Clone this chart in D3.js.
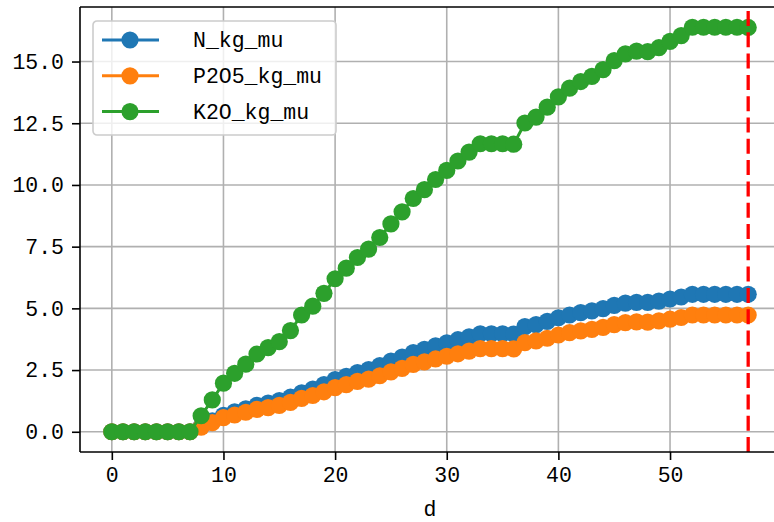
<!DOCTYPE html>
<html>
<head>
<meta charset="utf-8">
<script src="https://cdn.jsdelivr.net/npm/d3@7"></script>
<style>
  body { margin: 0; background: #fff; }
  svg { display: block; }
  text { font-family: "Liberation Mono", "DejaVu Sans Mono", monospace; }
</style>
</head>
<body>
<div id="chart"></div>
<script>
// days 0..57
const days = d3.range(0, 58);

const nKgMu = [0, 0, 0, 0, 0, 0, 0, 0,
  0.22, 0.44, 0.67, 0.81, 0.93, 1.07, 1.16, 1.26, 1.40, 1.58, 1.73, 1.91,
  2.11, 2.25, 2.40, 2.52, 2.68, 2.86, 3.03, 3.21, 3.34, 3.48,
  3.60, 3.73, 3.85, 3.97, 3.97, 3.97, 3.96, 4.26, 4.34, 4.47,
  4.62, 4.73, 4.83, 4.90, 4.99, 5.12, 5.21, 5.24, 5.24, 5.29,
  5.38, 5.46, 5.57, 5.57, 5.57, 5.57, 5.57, 5.57];

const p2o5KgMu = [0, 0, 0, 0, 0, 0, 0, 0,
  0.19, 0.37, 0.57, 0.68, 0.79, 0.91, 0.98, 1.07, 1.19, 1.35, 1.47, 1.62,
  1.79, 1.91, 2.04, 2.13, 2.27, 2.43, 2.57, 2.73, 2.83, 2.95,
  3.06, 3.16, 3.27, 3.37, 3.37, 3.37, 3.36, 3.61, 3.68, 3.79,
  3.92, 4.02, 4.09, 4.15, 4.23, 4.34, 4.42, 4.45, 4.44, 4.49,
  4.56, 4.63, 4.73, 4.73, 4.73, 4.73, 4.73, 4.73];

const k2oKgMu = [0, 0, 0, 0, 0, 0, 0, 0,
  0.65, 1.29, 1.97, 2.37, 2.74, 3.15, 3.41, 3.65, 4.10, 4.73, 5.09, 5.61,
  6.20, 6.63, 7.06, 7.40, 7.87, 8.42, 8.91, 9.45, 9.81, 10.22,
  10.59, 10.97, 11.33, 11.67, 11.67, 11.67, 11.65, 12.51, 12.75, 13.15,
  13.57, 13.92, 14.19, 14.40, 14.67, 15.04, 15.31, 15.42, 15.40, 15.56,
  15.82, 16.05, 16.39, 16.39, 16.39, 16.39, 16.39, 16.38];

const seriesNames = ["N_kg_mu", "P2O5_kg_mu", "K2O_kg_mu"];
const seriesColors = ["#1f77b4", "#ff7f0e", "#2ca02c"];
const xTicks = [0, 10, 20, 30, 40, 50];
const yTicks = [0, 2.5, 5, 7.5, 10, 12.5, 15];
const markerDay = 57;

(function() {
  const width = 774, height = 522;
  const plotLeft = 80, plotRight = 780, plotTop = 7, plotBottom = 452;

  const series = [nKgMu, p2o5KgMu, k2oKgMu].map((vals, i) => ({
    name: seriesNames[i],
    color: seriesColors[i],
    points: vals.map((v, j) => ({ d: days[j], v: v }))
  }));

  const xMax = d3.max(days), xMin = d3.min(days);
  const yMax = d3.max(series, s => d3.max(s.points, p => p.v));
  const xPad = (xMax - xMin) * 0.05, yPad = yMax * 0.05;

  const x = d3.scaleLinear().domain([xMin - xPad, xMax + xPad]).range([plotLeft, plotRight]);
  const y = d3.scaleLinear().domain([-yPad, yMax + yPad]).range([plotBottom, plotTop]);

  const svg = d3.select("#chart").append("svg")
    .attr("width", width)
    .attr("height", height);

  // grid
  const grid = svg.append("g");
  grid.selectAll("line.gx").data(xTicks).enter().append("line")
    .attr("x1", d => x(d)).attr("x2", d => x(d))
    .attr("y1", plotTop).attr("y2", plotBottom)
    .attr("stroke", "#b0b0b0").attr("stroke-width", 1.6);
  grid.selectAll("line.gy").data(yTicks).enter().append("line")
    .attr("x1", plotLeft).attr("x2", plotRight)
    .attr("y1", d => y(d)).attr("y2", d => y(d))
    .attr("stroke", "#b0b0b0").attr("stroke-width", 1.6);

  // series
  const line = d3.line().x(p => x(p.d)).y(p => y(p.v));
  series.forEach(s => {
    const g = svg.append("g");
    g.append("path")
      .attr("d", line(s.points))
      .attr("fill", "none")
      .attr("stroke", s.color)
      .attr("stroke-width", 3);
    g.selectAll("circle").data(s.points).enter().append("circle")
      .attr("cx", p => x(p.d))
      .attr("cy", p => y(p.v))
      .attr("r", 8.6)
      .attr("fill", s.color);
  });

  // red dashed marker line
  svg.append("line")
    .attr("x1", x(markerDay)).attr("x2", x(markerDay))
    .attr("y1", plotBottom).attr("y2", plotTop)
    .attr("stroke", "red")
    .attr("stroke-width", 3.3)
    .attr("stroke-dasharray", "15,6.3");

  // axes
  const xAxis = svg.append("g")
    .attr("transform", `translate(0,${plotBottom})`)
    .call(d3.axisBottom(x).tickValues(xTicks).tickSize(8).tickPadding(7).tickFormat(d3.format("d")));
  const yAxis = svg.append("g")
    .attr("transform", `translate(${plotLeft},0)`)
    .call(d3.axisLeft(y).tickValues(yTicks).tickSize(8).tickPadding(8).tickFormat(d3.format(".1f")));

  [xAxis, yAxis].forEach(a => {
    a.select(".domain").remove();
    a.selectAll(".tick line").attr("stroke", "#000").attr("stroke-width", 1.6);
    a.selectAll(".tick text")
      .attr("fill", "#000")
      .style("font-size", "21.5px");
  });

  // spines
  svg.append("line").attr("x1", plotLeft).attr("x2", plotLeft).attr("y1", plotTop).attr("y2", plotBottom)
    .attr("stroke", "#000").attr("stroke-width", 1.6);
  svg.append("line").attr("x1", plotLeft).attr("x2", plotRight).attr("y1", plotBottom).attr("y2", plotBottom)
    .attr("stroke", "#000").attr("stroke-width", 1.6);
  svg.append("line").attr("x1", plotLeft).attr("x2", plotRight).attr("y1", plotTop).attr("y2", plotTop)
    .attr("stroke", "#000").attr("stroke-width", 1.6);

  // x label
  svg.append("text")
    .attr("x", (plotLeft + plotRight) / 2)
    .attr("y", 516)
    .attr("text-anchor", "middle")
    .style("font-size", "21.5px")
    .text("d");

  // legend
  const legend = svg.append("g").attr("transform", "translate(93,21)");
  legend.append("rect")
    .attr("width", 243).attr("height", 114)
    .attr("rx", 4)
    .attr("fill", "#fff").attr("fill-opacity", 0.8)
    .attr("stroke", "#cccccc").attr("stroke-width", 1.6);

  const rows = legend.selectAll("g.row").data(series).enter().append("g")
    .attr("transform", (s, i) => `translate(0,${19 + i * 35.8})`);
  rows.append("line")
    .attr("x1", 9).attr("x2", 66)
    .attr("stroke", s => s.color).attr("stroke-width", 3);
  rows.append("circle")
    .attr("cx", 37).attr("r", 8.6)
    .attr("fill", s => s.color);
  rows.append("text")
    .attr("x", 100).attr("y", 7)
    .style("font-size", "21.5px")
    .text(s => s.name);
})();
</script>
</body>
</html>
